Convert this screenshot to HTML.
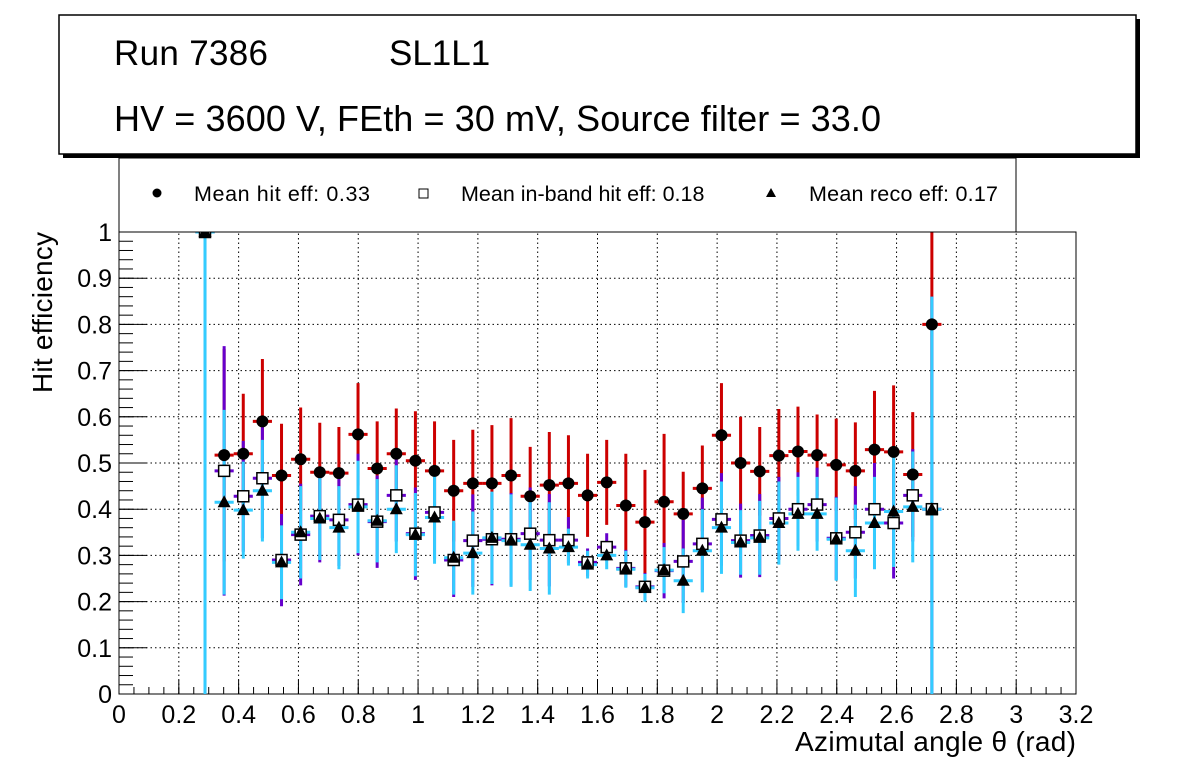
<!DOCTYPE html>
<html><head><meta charset="utf-8"><style>
body{margin:0;background:#fff;}
svg text{font-family:"Liberation Sans",sans-serif;}
</style></head><body>
<svg id="c" width="1196" height="772" xmlns="http://www.w3.org/2000/svg">
<rect x="0" y="0" width="1196" height="772" fill="#fff"/>
<g id="grid"></g><g id="axes"></g><g id="marks"></g>
<rect x="63" y="19" width="1077" height="139" fill="#000"/>
<rect x="59" y="15" width="1077" height="139" fill="#fff" stroke="#000" stroke-width="1.5"/>
<text x="114" y="65" font-size="35" textLength="154">Run 7386</text>
<text x="389" y="65" font-size="35">SL1L1</text>
<text x="114" y="131" font-size="36" textLength="767">HV = 3600 V, FEth = 30 mV, Source filter = 33.0</text>
<g>
<rect x="119" y="158" width="897" height="74" fill="#fff" stroke="#000" stroke-width="1"/>
<circle cx="157" cy="193" r="4.5" fill="#000"/>
<text x="194" y="201" font-size="21.5" textLength="176">Mean hit  eff: 0.33</text>
<rect x="419" y="189" width="9" height="9" fill="#fff" stroke="#000"/>
<text x="461" y="201" font-size="21.5">Mean in-band hit eff: 0.18</text>
<polygon points="771,188 776,197 766,197" fill="#000"/>
<text x="809" y="201" font-size="21.5" textLength="189">Mean reco eff: 0.17</text>
</g>
<text x="0" y="0" font-size="28" textLength="161" transform="translate(52,393) rotate(-90)">Hit efficiency</text>
<text x="795" y="751" font-size="28" textLength="281">Azimutal angle θ (rad)</text>
</svg>
<script>
const xStart = 0.2876, xStep = 0.06396;
const hitVals = [1.0,0.517,0.52,0.59,0.473,0.508,0.48,0.478,0.562,0.488,0.52,0.505,0.483,0.44,0.456,0.456,0.473,0.428,0.452,0.456,0.43,0.458,0.408,0.372,0.416,0.39,0.445,0.56,0.5,0.482,0.516,0.525,0.517,0.496,0.483,0.529,0.524,0.475,0.8];
const hitErrs = [1.0,0.23,0.13,0.135,0.112,0.112,0.107,0.1,0.111,0.102,0.098,0.107,0.107,0.11,0.116,0.126,0.124,0.107,0.115,0.104,0.09,0.092,0.112,0.113,0.147,0.091,0.093,0.113,0.1,0.096,0.101,0.097,0.088,0.1,0.105,0.127,0.144,0.135,0.2];
const bandVals = [1.0,0.483,0.428,0.467,0.29,0.345,0.385,0.377,0.41,0.373,0.43,0.347,0.393,0.29,0.332,0.335,0.335,0.347,0.333,0.333,0.285,0.318,0.272,0.232,0.267,0.287,0.325,0.378,0.332,0.343,0.38,0.4,0.41,0.337,0.35,0.4,0.37,0.43,0.4];
const bandErrs = [1.0,0.27,0.12,0.13,0.1,0.11,0.1,0.1,0.11,0.1,0.1,0.1,0.1,0.08,0.1,0.1,0.1,0.1,0.1,0.05,0.03,0.03,0.04,0.03,0.06,0.09,0.1,0.1,0.08,0.09,0.09,0.08,0.08,0.09,0.1,0.1,0.12,0.1,0.46];
const recoVals = [1.0,0.415,0.398,0.44,0.285,0.35,0.38,0.36,0.405,0.375,0.4,0.345,0.382,0.295,0.305,0.338,0.332,0.323,0.315,0.318,0.28,0.3,0.27,0.23,0.268,0.245,0.31,0.36,0.328,0.338,0.37,0.39,0.39,0.335,0.31,0.37,0.395,0.405,0.4];
const recoErrs = [1.0,0.2,0.105,0.11,0.08,0.1,0.09,0.09,0.1,0.09,0.095,0.09,0.1,0.08,0.09,0.1,0.1,0.1,0.1,0.04,0.03,0.03,0.04,0.03,0.05,0.07,0.09,0.1,0.07,0.08,0.09,0.08,0.08,0.09,0.1,0.1,0.12,0.12,0.46];
const xTicks = ["0","0.2","0.4","0.6","0.8","1","1.2","1.4","1.6","1.8","2","2.2","2.4","2.6","2.8","3","3.2"];
const yTicks = ["0","0.1","0.2","0.3","0.4","0.5","0.6","0.7","0.8","0.9","1"];
const X0=119,X1=1076,Y0=694,Y1=232;
const sx=v=>X0+(v/3.2)*(X1-X0);
const sy=v=>Y0-(Math.max(0,Math.min(1,v)))*(Y0-Y1);
const NS="http://www.w3.org/2000/svg";
function mk(tag,attrs,parent){const e=document.createElementNS(NS,tag);for(const k in attrs)e.setAttribute(k,attrs[k]);parent.appendChild(e);return e;}
const grid=document.getElementById('grid'),axes=document.getElementById('axes'),marks=document.getElementById('marks');
xTicks.forEach(t=>{const v=parseFloat(t),x=sx(v);
 if(v>0&&v<3.2){const l=mk('line',{x1:x,x2:x,y1:Y0,y2:Y1,stroke:'#000','stroke-dasharray':'1.5,3','stroke-width':1},grid);
 
 }
 mk('line',{x1:x,x2:x,y1:Y0,y2:Y0-14,stroke:'#000'},axes);
 const tx=mk('text',{x:x,y:Y0+29,'font-size':25,'text-anchor':'middle'},axes);tx.textContent=t;
 
 });
for(let i=0;i<64;i++){const x=sx(i*0.05);mk('line',{x1:x,x2:x,y1:Y0,y2:Y0-7,stroke:'#000'},axes);}
yTicks.forEach(t=>{const v=parseFloat(t),y=sy(v);
 if(v>0&&v<1){const l=mk('line',{x1:X0,x2:X1,y1:y,y2:y,stroke:'#000','stroke-dasharray':'1.5,3','stroke-width':1},grid);
 
 }
 mk('line',{x1:X0,x2:X0+28,y1:y,y2:y,stroke:'#000'},axes);
 const tx=mk('text',{x:X0-7,y:y+9,'font-size':25,'text-anchor':'end'},axes);tx.textContent=t;
 
 });
for(let i=0;i<50;i++){const y=sy(i*0.02);mk('line',{x1:X0,x2:X0+14,y1:y,y2:y,stroke:'#000'},axes);}
mk('rect',{x:X0,y:Y1,width:X1-X0,height:Y0-Y1,fill:'none',stroke:'#000'},axes);
const hw=0.032;
function series(vals,errs,col,name){vals.forEach((v,i)=>{const x=xStart+i*xStep;
 const g=mk('g',{},marks);
 
 
 mk('line',{x1:sx(x),x2:sx(x),y1:sy(v-errs[i]),y2:sy(v+errs[i]),stroke:col,'stroke-width':3},g);
 mk('line',{x1:sx(x-hw),x2:sx(x+hw),y1:sy(v),y2:sy(v),stroke:col,'stroke-width':3},g);});}
series(hitVals,hitErrs,'#cc0000','hit');
series(bandVals,bandErrs,'#6600cc','inband');
series(recoVals,recoErrs,'#33ccff','reco');
hitVals.forEach((v,i)=>{const c=mk('circle',{cx:sx(xStart+i*xStep),cy:sy(v),r:6,fill:'#000'},marks);
 
 });
bandVals.forEach((v,i)=>{const r=mk('rect',{x:sx(xStart+i*xStep)-5.5,y:sy(v)-5.5,width:11,height:11,fill:'#fff',stroke:'#000','stroke-width':1.5},marks);
 
 });
recoVals.forEach((v,i)=>{const x=sx(xStart+i*xStep),y=sy(v);const p=mk('polygon',{points:`${x},${y-7} ${x+6.5},${y+5} ${x-6.5},${y+5}`,fill:'#000'},marks);
 
 });
</script>
</body></html>
